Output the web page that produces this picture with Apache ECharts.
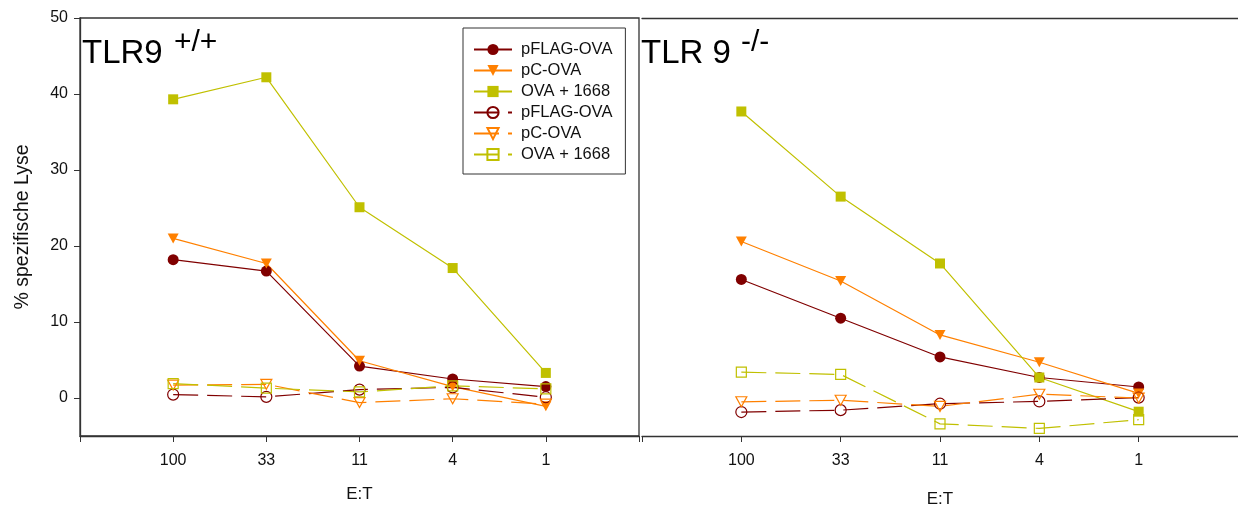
<!DOCTYPE html>
<html>
<head>
<meta charset="utf-8">
<script src="https://cdn.jsdelivr.net/npm/echarts@6/dist/echarts.min.js"></script>
<style>
  html, body { margin: 0; padding: 0; background: #fff; }
  #chart { width: 1238px; height: 508px; }
</style>
</head>
<body>
<div id="chart"></div>
<script>
// E:T Verhältnisse
const categories = ['100', '33', '11', '4', '1'];

// TLR9 +/+
const wtFlag = [18.2, 16.7, 4.2, 2.5, 1.5];
const wtPC = [21.0, 17.7, 4.9, 1.5, -1.1];
const wtOva = [39.3, 42.2, 25.1, 17.1, 3.3];
const wtFlagOpen = [0.45, 0.15, 1.1, 1.4, 0.1];
const wtPCOpen = [1.7, 1.8, -0.6, -0.1, -0.8];
const wtOvaOpen = [1.9, 1.3, 0.8, 1.6, 1.2];

// TLR9 -/-
const koFlag = [15.6, 10.5, 5.4, 2.7, 1.45];
const koPC = [20.6, 15.4, 8.3, 4.7, 0.6];
const koOva = [37.7, 26.5, 17.7, 2.7, -1.8];
const koFlagOpen = [-1.85, -1.6, -0.75, -0.45, 0.05];
const koPCOpen = [-0.5, -0.3, -1.1, 0.5, 0];
const koOvaOpen = [3.4, 3.1, -3.4, -4.0, -2.85];

const yTicks = [0, 10, 20, 30, 40, 50];

const FONT = 'Liberation Sans, Arial, sans-serif';
const RED = '#800000';
const ORANGE = '#ff8000';
const OLIVE = '#c0c000';
const TRI_DOWN = 'path://M0,0 L10,0 L5,9 Z';

// name|suffix -> legend shows only the part before '|'
const seriesDefs = [
  { name: 'pFLAG-OVA', color: RED, symbol: 'circle', size: 11, open: false, data: [wtFlag, koFlag] },
  { name: 'pC-OVA', color: ORANGE, symbol: TRI_DOWN, size: [11, 10], open: false, data: [wtPC, koPC] },
  { name: 'OVA + 1668', color: OLIVE, symbol: 'rect', size: 10, open: false, data: [wtOva, koOva] },
  { name: 'pFLAG-OVA|o', color: RED, symbol: 'circle', size: 11, open: true, data: [wtFlagOpen, koFlagOpen] },
  { name: 'pC-OVA|o', color: ORANGE, symbol: TRI_DOWN, size: [11, 10], open: true, data: [wtPCOpen, koPCOpen] },
  { name: 'OVA + 1668|o', color: OLIVE, symbol: 'rect', size: 10, open: true, data: [wtOvaOpen, koOvaOpen] }
];

function toPoints(vals) {
  return vals.map((v, i) => [i + 1, v]);
}

const series = [];
[0, 1].forEach((g) => {
  seriesDefs.forEach((d) => {
    series.push({
      type: 'line',
      name: d.name,
      xAxisIndex: g,
      yAxisIndex: g,
      data: toPoints(d.data[g]),
      symbol: d.symbol,
      symbolSize: d.size,
      showAllSymbol: true,
      animation: false,
      lineStyle: { color: d.color, width: 1.2, type: d.open ? [25, 9] : 'solid' },
      itemStyle: d.open
        ? { color: 'rgba(255,255,255,0)', borderColor: d.color, borderWidth: 1.2 }
        : { color: d.color, borderColor: d.color, borderWidth: 0 }
    });
  });
});

function xAxisFor(g) {
  return {
    type: 'value',
    gridIndex: g,
    min: 0,
    max: 6,
    interval: 1,
    name: 'E:T',
    nameLocation: 'middle',
    nameGap: g === 0 ? 50 : 55,
    nameTextStyle: { fontFamily: FONT, fontSize: 17, color: '#111' },
    axisLine: { onZero: false, lineStyle: { color: '#333', width: 1.3 } },
    axisTick: { length: 6, lineStyle: { color: '#333' } },
    splitLine: { show: false },
    axisLabel: {
      margin: 17,
      fontFamily: FONT,
      fontSize: 16,
      color: '#111',
      formatter: (v) => (v >= 1 && v <= 5 ? categories[v - 1] : '')
    }
  };
}

function yAxisFor(g) {
  return {
    type: 'value',
    gridIndex: g,
    min: -5,
    max: 50,
    name: g === 0 ? '% spezifische Lyse' : '',
    nameLocation: 'middle',
    nameGap: 47,
    nameTextStyle: { fontFamily: FONT, fontSize: 19.5, color: '#111' },
    show: g === 0,
    axisLine: { show: true, lineStyle: { color: '#333', width: 1.3 } },
    axisTick: { show: true, length: 6, customValues: yTicks, lineStyle: { color: '#333' } },
    axisLabel: { show: true, customValues: yTicks, margin: 12, fontFamily: FONT, fontSize: 16, color: '#111' },
    splitLine: { show: false }
  };
}

// panel labels: main text + superscript
function panelTitle(text, left, top, size) {
  return { text: text, left: left, top: top, padding: 0,
    textStyle: { fontFamily: FONT, fontSize: size, fontWeight: 'normal', color: '#000' } };
}

const chart = echarts.init(document.getElementById('chart'), null, { renderer: 'canvas' });

chart.setOption({
  backgroundColor: '#fff',
  animation: false,
  grid: [
    { left: 80, top: 18, width: 559, bottom: 72, outerBoundsMode: 'none', show: true, borderColor: '#333', borderWidth: 1.3 },
    { left: 642, top: 18, right: 0, bottom: 72, outerBoundsMode: 'none' }
  ],
  title: [
    panelTitle('TLR9', 82, 37, 33),
    panelTitle('+/+', 174, 28, 30),
    panelTitle('TLR 9', 641, 37, 33),
    panelTitle('-/-', 741, 28, 30)
  ],
  legend: {
    orient: 'vertical',
    left: 463,
    top: 28,
    padding: [13, 13, 11, 10],
    itemWidth: 38,
    itemHeight: 14,
    itemGap: 4,
    borderColor: '#333',
    borderWidth: 1,
    backgroundColor: '#fff',
    selectedMode: false,
    data: seriesDefs.map((d) => d.name),
    formatter: (n) => n.split('|')[0],
    textStyle: { fontFamily: FONT, fontSize: 16.5, color: '#111', padding: [0, 0, 0, 4] }
  },
  xAxis: [
    xAxisFor(0),
    xAxisFor(1),
    {
      type: 'value', gridIndex: 1, position: 'top', min: 0, max: 6,
      axisLine: { show: true, onZero: false, lineStyle: { color: '#333', width: 1.3 } },
      axisTick: { show: false }, axisLabel: { show: false }, splitLine: { show: false }
    }
  ],
  yAxis: [yAxisFor(0), yAxisFor(1)],
  series: series
});

window.addEventListener('resize', () => chart.resize());
</script>
</body>
</html>
